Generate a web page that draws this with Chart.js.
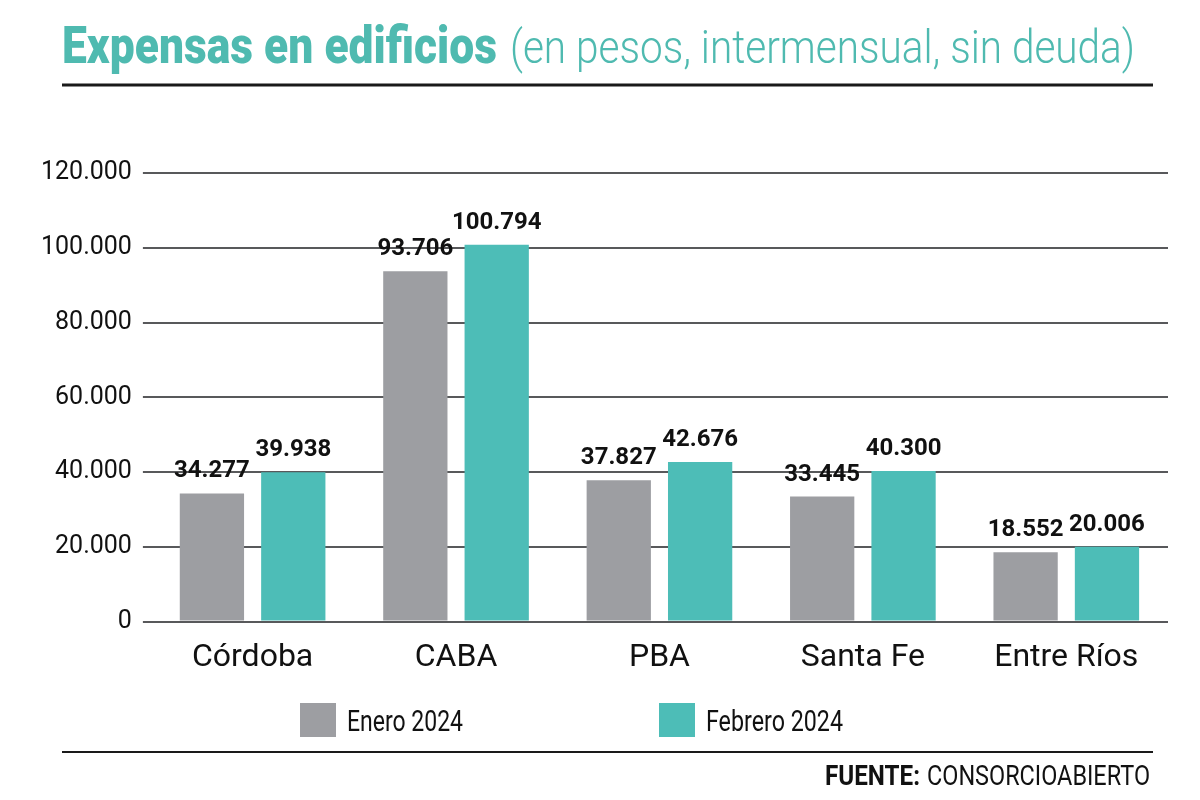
<!DOCTYPE html>
<html>
<head>
<meta charset="utf-8">
<script src="https://cdn.jsdelivr.net/npm/chart.js@4.4.1/dist/chart.umd.min.js"></script>
<style>
  html, body { margin: 0; padding: 0; background: #fff; }
  #wrap { width: 1200px; height: 800px; }
</style>
</head>
<body>
<div id="wrap"><canvas id="barChart" width="1200" height="800"></canvas></div>
<script>
var provincias = ['Córdoba', 'CABA', 'PBA', 'Santa Fe', 'Entre Ríos'];
var enero2024 = [34277, 93706, 37827, 33445, 18552];
var febrero2024 = [39938, 100794, 42676, 40300, 20006];
var serieNombres = ['Enero 2024', 'Febrero 2024'];
var serieColores = ['#9d9ea2', '#4dbdb7'];

var tituloFuerte = 'Expensas en edificios';
var tituloSuave = '(en pesos, intermensual, sin deuda)';
var fuente = ['FUENTE:', 'CONSORCIOABIERTO'];

function miles(n) {
    return n.toString().replace(/\B(?=(\d{3})+(?!\d))/g, '.');
}

// etiquetas sobre cada barra
var valoresPlugin = {
    id: 'valores',
    afterDatasetsDraw: function (chart) {
        var ctx = chart.ctx;
        ctx.save();
        ctx.font = 'bold 24px Roboto';
        ctx.fillStyle = '#111';
        ctx.textAlign = 'center';
        ctx.textBaseline = 'alphabetic';
        chart.data.datasets.forEach(function (ds, i) {
            chart.getDatasetMeta(i).data.forEach(function (bar, j) {
                ctx.fillText(miles(ds.data[j]), bar.x, bar.y - 16);
            });
        });
        ctx.restore();
    }
};

// titulo, lineas, leyenda y fuente
var marcoPlugin = {
    id: 'marco',
    afterDraw: function (chart) {
        var ctx = chart.ctx;
        ctx.save();
        ctx.textBaseline = 'alphabetic';
        ctx.textAlign = 'left';

        ctx.fillStyle = '#4fbab0';
        ctx.font = '900 52px Roboto';
        ctx.fillText(tituloFuerte, 62, 63, 435);
        ctx.font = '300 46px Roboto';
        ctx.fillText(tituloSuave, 510, 63, 625);

        ctx.strokeStyle = '#1a1a1a';
        ctx.lineWidth = 3;
        ctx.beginPath();
        ctx.moveTo(62, 85);
        ctx.lineTo(1153, 85);
        ctx.stroke();
        ctx.lineWidth = 2;
        ctx.beginPath();
        ctx.moveTo(62, 752);
        ctx.lineTo(1153, 752);
        ctx.stroke();

        // leyenda
        var items = [{ x: 300, w: 116 }, { x: 659, w: 137 }];
        chart.data.datasets.forEach(function (ds, i) {
            ctx.fillStyle = ds.backgroundColor;
            ctx.fillRect(items[i].x, 703, 36, 34);
            ctx.fillStyle = '#111';
            ctx.font = '30px Roboto';
            ctx.fillText(ds.label, items[i].x + 47, 731, items[i].w);
        });

        // fuente
        ctx.fillStyle = '#111';
        ctx.font = '27px Roboto';
        ctx.fillText(fuente[1], 927, 785, 223);
        ctx.font = 'bold 27px Roboto';
        ctx.fillText(fuente[0], 825, 785, 95);
        ctx.restore();
    }
};

var ctx = document.getElementById('barChart');
var barGraph = new Chart(ctx, {
    type: 'bar',
    data: {
        labels: provincias,
        datasets: [
            { label: serieNombres[0], data: enero2024, backgroundColor: serieColores[0] },
            { label: serieNombres[1], data: febrero2024, backgroundColor: serieColores[1] }
        ]
    },
    options: {
        responsive: false,
        animation: false,
        devicePixelRatio: 1,
        categoryPercentage: 0.8,
        barPercentage: 0.79,
        layout: { padding: { top: 173, left: 30, right: 32, bottom: 114 } },
        plugins: {
            legend: { display: false },
            tooltip: { enabled: false }
        },
        scales: {
            x: {
                grid: { display: false },
                border: { display: false },
                ticks: { color: '#111', font: { family: 'Roboto', size: 32 }, padding: 9 }
            },
            y: {
                min: 0,
                max: 120000,
                border: { display: false },
                grid: { color: '#58595b', lineWidth: 2, tickLength: 8 },
                ticks: {
                    stepSize: 20000,
                    color: '#111',
                    padding: 11,
                    font: { family: 'Roboto', size: 25 },
                    callback: function (v) { return miles(v); }
                }
            }
        }
    },
    plugins: [valoresPlugin, marcoPlugin]
});
</script>
</body>
</html>
